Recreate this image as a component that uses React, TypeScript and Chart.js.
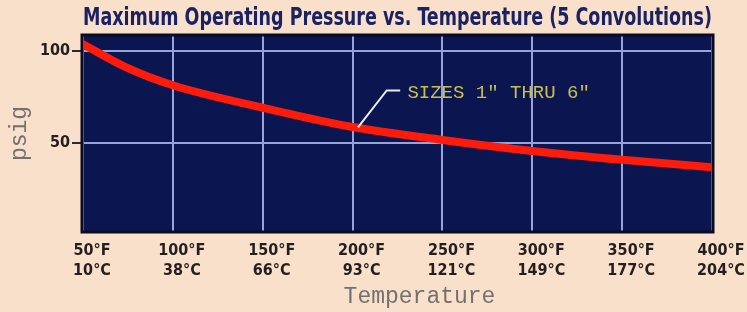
import React, { useEffect, useRef } from "react";
import { Chart, registerables } from "chart.js";

Chart.register(...registerables);

// ---- data ----
// curve samples
const curveTemperaturesF = [50, 75, 100, 150, 200, 250, 300, 350, 400];
const curvePressurePsig = [103.5, 90.5, 81.2, 69, 58.5, 51.5, 45.5, 40.7, 36.7];
// axis tick labels
const tickTemperaturesF = [50, 100, 150, 200, 250, 300, 350, 400];
const tickTemperaturesC = [10, 38, 66, 93, 121, 149, 177, 204];
const yTickValues = [50, 100];
const chartTitle = "Maximum Operating Pressure vs. Temperature (5 Convolutions)";
const xAxisTitle = "Temperature";
const yAxisTitle = "psig";
const calloutText = 'SIZES 1" THRU 6"';
// callout: anchor on the curve, elbow and text start (data units)
const calloutAnchor = { x: 203, y: 58.3 };
const calloutElbow = { x: 219, y: 78.4 };
const calloutEnd = { x: 226.5, y: 78.4 };
const calloutTextPos = { x: 230.5, y: 77 };

// ---- styles ----
const PAGE_BG = "#f9e0cb";
const PLOT_BG = "#0b1550";
const BORDER = "#0a0b22";
const GRID = "#97a4dc";
const RED = "#fd1c0c";
const LABEL = "#231f1f";
const AXIS_TITLE = "#747070";
const TITLE_COLOR = "#1b2264";
const CALLOUT_TEXT = "#c9c04c";
const NARROW = '"Liberation Sans Narrow", "DejaVu Sans Condensed", "Arial Narrow", sans-serif';
const MONO = '"Liberation Mono", "DejaVu Sans Mono", monospace';

const plotPlugin = {
  id: "plotDecor",
  beforeDraw(chart: any) {
    const { ctx, chartArea: a } = chart;
    ctx.save();
    ctx.fillStyle = PAGE_BG;
    ctx.fillRect(0, 0, chart.width, chart.height);
    ctx.fillStyle = PLOT_BG;
    ctx.fillRect(a.left, a.top, a.right - a.left, a.bottom - a.top);
    ctx.restore();
  },
  beforeDatasetsDraw(chart: any) {
    const { ctx, chartArea: a } = chart;
    ctx.save();
    ctx.strokeStyle = BORDER;
    ctx.lineWidth = 3;
    ctx.strokeRect(a.left - 1, a.top - 1, a.right - a.left + 2, a.bottom - a.top + 2);
    ctx.restore();
  },
  afterDatasetsDraw(chart: any) {
    const { ctx, chartArea: a } = chart;
    const xs = chart.scales.x;
    const ys = chart.scales.y;
    ctx.save();
    ctx.strokeStyle = "#e8ecf4";
    ctx.lineWidth = 2;
    ctx.beginPath();
    ctx.moveTo(xs.getPixelForValue(calloutAnchor.x), ys.getPixelForValue(calloutAnchor.y));
    ctx.lineTo(xs.getPixelForValue(calloutElbow.x), ys.getPixelForValue(calloutElbow.y));
    ctx.lineTo(xs.getPixelForValue(calloutEnd.x), ys.getPixelForValue(calloutEnd.y));
    ctx.stroke();
    ctx.fillStyle = CALLOUT_TEXT;
    ctx.font = `19px ${MONO}`;
    ctx.textBaseline = "middle";
    ctx.textAlign = "left";
    ctx.fillText(calloutText, xs.getPixelForValue(calloutTextPos.x), ys.getPixelForValue(calloutTextPos.y));
    // x axis title
    ctx.fillStyle = AXIS_TITLE;
    ctx.font = `23px ${MONO}`;
    ctx.textAlign = "center";
    ctx.fillText(xAxisTitle, (a.left + a.right) / 2 + 22, chart.height - 15);
    ctx.restore();
  },
};

export default function App() {
  const ref = useRef<HTMLCanvasElement>(null);
  useEffect(() => {
    if (!ref.current) return;
    const chart = new Chart(ref.current, {
      type: "line",
      data: {
        datasets: [
          {
            data: curveTemperaturesF.map((t, i) => ({ x: t, y: curvePressurePsig[i] })),
            borderColor: RED,
            borderWidth: 8,
            borderCapStyle: "round",
            pointRadius: 0,
            tension: 0.4,
            cubicInterpolationMode: "monotone",
            fill: false,
          },
        ],
      },
      options: {
        animation: false,
        responsive: false,
        layout: { padding: { left: 0, right: 35, top: 0, bottom: 0 } },
        plugins: {
          legend: { display: false },
          tooltip: { enabled: false },
          title: {
            display: true,
            text: chartTitle,
            align: "start",
            fullSize: false,
            color: TITLE_COLOR,
            font: { family: NARROW, size: 25, weight: "bold", lineHeight: 1.2 },
            padding: { top: 3, bottom: 3 },
          },
        },
        scales: {
          x: {
            type: "linear",
            min: 50,
            max: 400,
            afterBuildTicks: (s: any) => {
              s.ticks = tickTemperaturesF.map((v) => ({ value: v }));
            },
            afterFit: (s: any) => {
              s.height = 81;
            },
            ticks: {
              autoSkip: false,
              maxRotation: 0,
              labelOffset: 9,
              padding: 10,
              color: LABEL,
              font: { family: NARROW, size: 16, weight: "bold", lineHeight: 1.25 },
              callback: (v: any) => {
                const i = tickTemperaturesF.indexOf(Number(v));
                return [`${v}°F`, `${tickTemperaturesC[i]}°C`];
              },
            },
            grid: { color: GRID, lineWidth: 2, drawTicks: false },
            border: { display: false },
          },
          y: {
            type: "linear",
            min: 2,
            max: 108,
            afterBuildTicks: (s: any) => {
              s.ticks = yTickValues.map((v) => ({ value: v }));
            },
            afterFit: (s: any) => {
              s.width = 83;
            },
            ticks: {
              padding: 2,
              color: LABEL,
              font: { family: NARROW, size: 16, weight: "bold" },
            },
            grid: {
              color: GRID,
              lineWidth: 2,
              drawTicks: true,
              tickLength: 11,
              tickColor: "#2b2b2b",
              tickWidth: 2,
            },
            border: { display: false },
            title: {
              display: true,
              text: yAxisTitle,
              color: AXIS_TITLE,
              font: { family: MONO, size: 23 },
              padding: { top: 6, bottom: 0 },
            },
          },
        },
      },
      plugins: [plotPlugin],
    } as any);
    return () => chart.destroy();
  }, []);
  return (
    <div style={{ position: "fixed", left: 0, top: 0, width: 747, height: 312, background: PAGE_BG }}>
      <canvas ref={ref} width={747} height={312} style={{ display: "block" }} />
    </div>
  );
}
